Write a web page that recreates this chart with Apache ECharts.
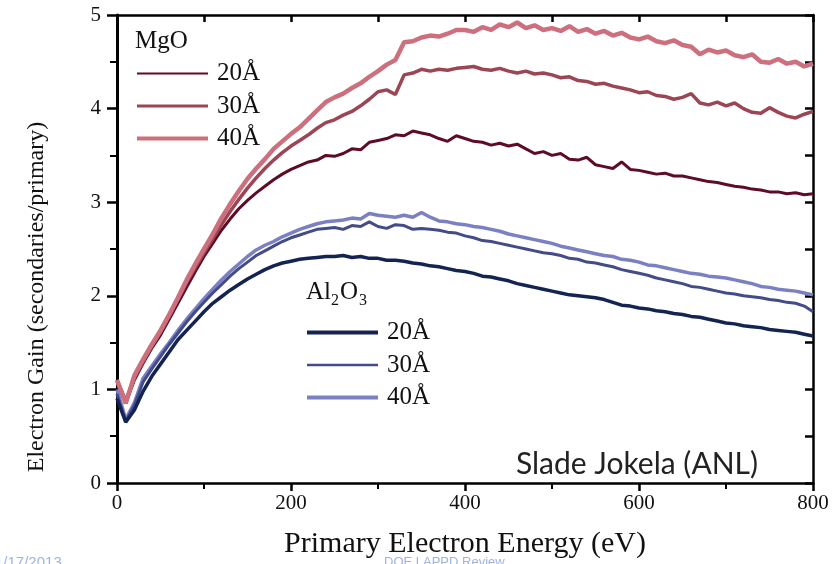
<!DOCTYPE html>
<html>
<head>
<meta charset="utf-8">
<script src="https://cdn.jsdelivr.net/npm/echarts@6/dist/echarts.min.js"></script>
<style>
html,body{margin:0;padding:0;background:#fff;}
#chart{width:840px;height:564px;}
</style>
</head>
<body>
<div id="chart"></div>
<script>
// Primary electron energy (eV), sampled every 10 eV
const energy = [0,10,20,30,40,50,60,70,80,90,100,110,120,130,140,150,160,170,180,190,200,210,220,230,240,250,260,270,280,290,300,310,320,330,340,350,360,370,380,390,400,410,420,430,440,450,460,470,480,490,500,510,520,530,540,550,560,570,580,590,600,610,620,630,640,650,660,670,680,690,700,710,720,730,740,750,760,770,780,790,800];

const mgo20 = [1.08,0.85,1.10,1.28,1.44,1.58,1.75,1.92,2.09,2.26,2.42,2.56,2.70,2.82,2.93,3.02,3.10,3.17,3.24,3.30,3.35,3.39,3.43,3.45,3.50,3.49,3.52,3.57,3.56,3.64,3.66,3.68,3.72,3.71,3.76,3.74,3.72,3.68,3.65,3.71,3.68,3.65,3.64,3.61,3.63,3.60,3.62,3.57,3.52,3.54,3.50,3.52,3.46,3.45,3.48,3.40,3.38,3.36,3.43,3.35,3.34,3.32,3.30,3.31,3.28,3.28,3.26,3.24,3.22,3.21,3.19,3.17,3.16,3.14,3.13,3.11,3.11,3.09,3.10,3.08,3.09];
const mgo30 = [1.10,0.88,1.12,1.30,1.46,1.61,1.78,1.96,2.14,2.30,2.46,2.61,2.76,2.90,3.03,3.15,3.26,3.36,3.45,3.53,3.60,3.66,3.72,3.79,3.85,3.88,3.93,3.97,4.03,4.10,4.18,4.20,4.15,4.36,4.38,4.42,4.40,4.42,4.41,4.43,4.44,4.45,4.42,4.41,4.43,4.40,4.38,4.40,4.37,4.38,4.36,4.33,4.34,4.30,4.29,4.26,4.27,4.24,4.22,4.20,4.17,4.18,4.14,4.13,4.10,4.12,4.16,4.06,4.04,4.07,4.03,4.06,4.00,3.96,3.95,4.01,3.96,3.92,3.90,3.94,3.97];
const mgo40 = [1.10,0.85,1.15,1.32,1.48,1.63,1.80,1.98,2.17,2.34,2.50,2.66,2.83,2.98,3.12,3.25,3.36,3.46,3.57,3.65,3.73,3.80,3.89,3.98,4.07,4.12,4.16,4.22,4.27,4.34,4.40,4.47,4.52,4.71,4.72,4.76,4.78,4.77,4.80,4.84,4.84,4.82,4.87,4.84,4.90,4.87,4.92,4.86,4.89,4.84,4.86,4.83,4.88,4.82,4.85,4.80,4.83,4.78,4.81,4.76,4.74,4.77,4.72,4.70,4.73,4.68,4.66,4.58,4.63,4.60,4.62,4.57,4.55,4.58,4.50,4.49,4.53,4.48,4.50,4.45,4.48];
const al20 = [0.90,0.65,0.78,0.98,1.14,1.27,1.40,1.53,1.63,1.73,1.83,1.92,1.99,2.06,2.12,2.18,2.23,2.28,2.32,2.35,2.37,2.39,2.40,2.41,2.42,2.42,2.43,2.41,2.42,2.40,2.40,2.38,2.38,2.37,2.35,2.34,2.32,2.31,2.29,2.27,2.26,2.24,2.21,2.20,2.18,2.16,2.13,2.11,2.09,2.07,2.05,2.03,2.01,2.00,1.99,1.98,1.96,1.93,1.90,1.89,1.87,1.86,1.84,1.83,1.81,1.80,1.78,1.77,1.75,1.73,1.71,1.70,1.68,1.67,1.66,1.64,1.63,1.62,1.61,1.59,1.57];
const al30 = [0.95,0.66,0.83,1.08,1.22,1.35,1.48,1.60,1.72,1.83,1.93,2.03,2.12,2.21,2.29,2.36,2.43,2.48,2.53,2.58,2.62,2.65,2.68,2.71,2.72,2.73,2.71,2.75,2.74,2.79,2.74,2.72,2.76,2.75,2.71,2.72,2.71,2.70,2.68,2.67,2.64,2.62,2.59,2.58,2.56,2.54,2.52,2.50,2.48,2.46,2.45,2.43,2.40,2.39,2.36,2.35,2.33,2.31,2.28,2.26,2.24,2.22,2.19,2.17,2.15,2.13,2.10,2.09,2.07,2.05,2.03,2.02,2.00,1.99,1.98,1.96,1.95,1.93,1.92,1.89,1.83];
const al40 = [1.00,0.68,0.86,1.12,1.25,1.38,1.50,1.63,1.75,1.86,1.97,2.07,2.17,2.26,2.34,2.42,2.49,2.54,2.58,2.63,2.67,2.71,2.74,2.77,2.79,2.80,2.81,2.83,2.82,2.88,2.86,2.85,2.84,2.86,2.84,2.89,2.84,2.80,2.79,2.77,2.76,2.74,2.73,2.71,2.69,2.66,2.64,2.62,2.60,2.58,2.56,2.53,2.51,2.49,2.47,2.45,2.43,2.42,2.39,2.38,2.36,2.33,2.32,2.30,2.28,2.26,2.24,2.23,2.21,2.20,2.19,2.17,2.15,2.13,2.10,2.09,2.07,2.06,2.05,2.03,2.01];

const xTickLabels = ['0','200','400','600','800'];
const yTickLabels = ['0','1','2','3','4','5'];
const xTitle = 'Primary Electron Energy (eV)';
const yTitle = 'Electron Gain (secondaries/primary)';
const credit = 'Slade Jokela (ANL)';

const pairs = (ys) => energy.map((e, i) => [e, ys[i]]);

const seriesDefs = [
  {name: 'MgO 20Å', data: mgo20, color: '#5e0b25', width: 3, legendWidth: 2},
  {name: 'MgO 30Å', data: mgo30, color: '#9b4555', width: 3.5, legendWidth: 3},
  {name: 'MgO 40Å', data: mgo40, color: '#cd6f7d', width: 4.5, legendWidth: 4},
  {name: 'Al2O3 40Å', data: al40, color: '#7b80c3', width: 3.5, legendWidth: 4},
  {name: 'Al2O3 30Å', data: al30, color: '#434b88', width: 3, legendWidth: 2.5},
  {name: 'Al2O3 20Å', data: al20, color: '#142452', width: 3.5, legendWidth: 4}
];

const legendItems = (names) => names.map((n) => {
  const s = seriesDefs.find((d) => d.name === n);
  return {name: n, lineStyle: {width: s.legendWidth, color: s.color}};
});

const serif = 'Liberation Serif';
const chart = echarts.init(document.getElementById('chart'), null, {renderer: 'canvas'});

const legendCommon = {
  orient: 'vertical',
  padding: 0,
  itemWidth: 71,
  itemHeight: 14,
  itemGap: 7.5,
  selectedMode: false,
  itemStyle: {opacity: 0, borderWidth: 0},
  formatter: (n) => n.split(' ')[1],
  textStyle: {fontFamily: serif, fontSize: 25, color: '#111', lineHeight: 25, padding: [0, 0, 0, 4]}
};

chart.setOption({
  backgroundColor: '#fff',
  animation: false,
  grid: {left: 117, right: 27, top: 15, bottom: 78, containLabel: false},
  legend: [
    Object.assign({}, legendCommon, {left: 135, top: 61, data: legendItems(['MgO 20Å','MgO 30Å','MgO 40Å'])}),
    Object.assign({}, legendCommon, {left: 305, top: 320, data: legendItems(['Al2O3 20Å','Al2O3 30Å','Al2O3 40Å'])})
  ],
  xAxis: [
    {
      type: 'value', position: 'bottom', min: 0, max: 800, interval: 200,
      name: xTitle, nameLocation: 'middle', nameGap: 46,
      nameTextStyle: {fontFamily: serif, fontSize: 30, color: '#111'},
      axisLine: {show: true, onZero: false, lineStyle: {color: '#000', width: 2.5}},
      axisTick: {show: true, inside: false, length: 8, lineStyle: {color: '#000', width: 2.5}},
      minorTick: {show: true, splitNumber: 2, length: 6, lineStyle: {color: '#000', width: 2}},
      axisLabel: {show: true, margin: 10, fontFamily: serif, fontSize: 21, color: '#111',
        formatter: (v) => xTickLabels[Math.round(v / 200)]},
      splitLine: {show: false}, minorSplitLine: {show: false}
    },
    {
      type: 'value', position: 'top', min: 0, max: 800, interval: 100,
      axisLine: {show: true, onZero: false, lineStyle: {color: '#000', width: 2.5}},
      axisTick: {show: true, inside: true, length: 7, lineStyle: {color: '#000', width: 2.5}},
      axisLabel: {show: false}, splitLine: {show: false}
    }
  ],
  yAxis: [
    {
      type: 'value', position: 'left', min: 0, max: 5, interval: 1,
      name: yTitle, nameLocation: 'middle', nameGap: 68,
      nameTextStyle: {fontFamily: serif, fontSize: 24, color: '#111', padding: [0, 96, 0, 0]},
      axisLine: {show: true, onZero: false, lineStyle: {color: '#000', width: 3}},
      axisTick: {show: true, inside: false, length: 10, lineStyle: {color: '#000', width: 2.5}},
      minorTick: {show: true, splitNumber: 2, length: 7, lineStyle: {color: '#000', width: 2}},
      axisLabel: {show: true, margin: 16, fontFamily: serif, fontSize: 21, color: '#111',
        formatter: (v) => yTickLabels[Math.round(v)]},
      splitLine: {show: false}, minorSplitLine: {show: false}
    },
    {
      type: 'value', position: 'right', min: 0, max: 5, interval: 0.5,
      axisLine: {show: true, onZero: false, lineStyle: {color: '#000', width: 2.5}},
      axisTick: {show: true, inside: true, length: 8, lineStyle: {color: '#000', width: 2.5}},
      axisLabel: {show: false}, splitLine: {show: false}
    }
  ],
  series: seriesDefs.map((s) => ({
    name: s.name,
    type: 'line',
    xAxisIndex: 0, yAxisIndex: 0,
    data: pairs(s.data),
    showSymbol: false,
    symbol: 'none',
    smooth: false,
    color: s.color,
    lineStyle: {color: s.color, width: s.width},
    emphasis: {disabled: true}
  })),
  graphic: [
    {type: 'text', left: 516, top: 449, z: 10,
      style: {text: credit, fontFamily: 'Lato', fontSize: 30, fill: '#222'}},
    {type: 'text', left: 135, top: 29, z: 10,
      style: {text: 'MgO', fontFamily: serif, fontSize: 25, fill: '#111'}},
    {type: 'text', left: 306, top: 280, z: 10,
      style: {text: 'Al', fontFamily: serif, fontSize: 25, fill: '#111'}},
    {type: 'text', left: 331, top: 293, z: 10,
      style: {text: '2', fontFamily: serif, fontSize: 16, fill: '#111'}},
    {type: 'text', left: 340, top: 280, z: 10,
      style: {text: 'O', fontFamily: serif, fontSize: 25, fill: '#111'}},
    {type: 'text', left: 359, top: 293, z: 10,
      style: {text: '3', fontFamily: serif, fontSize: 16, fill: '#111'}},
    {type: 'text', left: -5, top: 555, z: -1,
      style: {text: '1/17/2013', fontFamily: 'Liberation Sans', fontSize: 15, fill: '#9fb3dc'}},
    {type: 'text', left: 384, top: 556, z: -1,
      style: {text: 'DOE LAPPD Review', fontFamily: 'Liberation Sans', fontSize: 13, fill: '#9fb3dc'}}
  ]
});
</script>
</body>
</html>
